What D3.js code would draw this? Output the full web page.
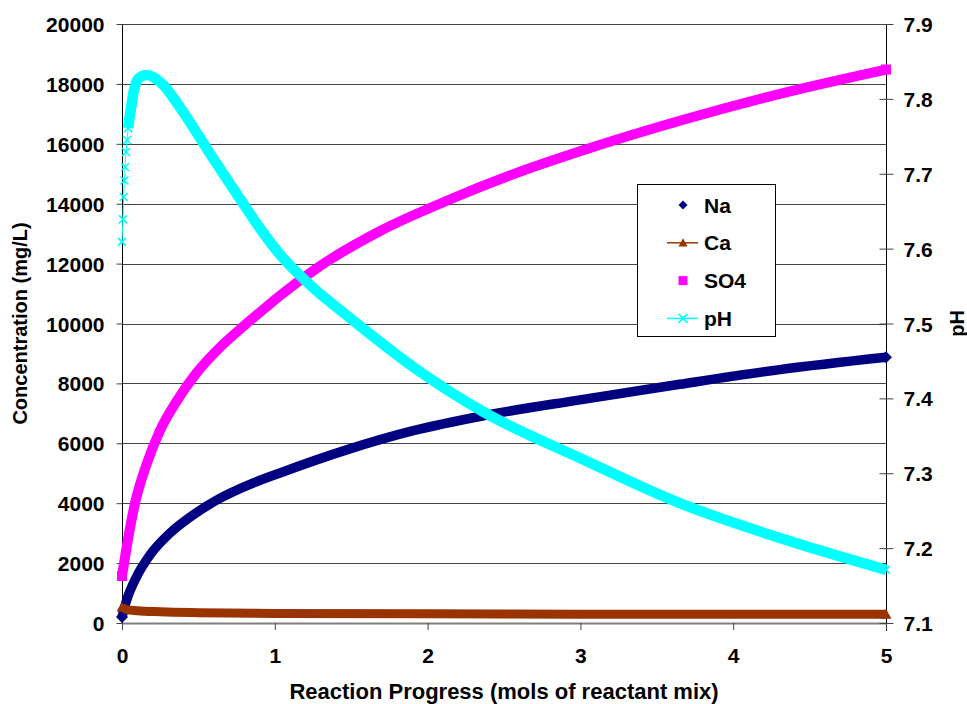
<!DOCTYPE html>
<html>
<head>
<meta charset="utf-8">
<script src="https://cdn.jsdelivr.net/npm/d3@7"></script>
<style>
	body { margin: 0; background: #fff; }
	text { font-family: "Liberation Sans", Arial, sans-serif; font-weight: bold; fill: #000; }
</style>
</head>
<body>
<script>
		// values
		var progress = [0, 1, 2, 3, 4, 5];
		var concTicks = [0, 2000, 4000, 6000, 8000, 10000, 12000, 14000, 16000, 18000, 20000];
		var phTicks = [7.1, 7.2, 7.3, 7.4, 7.5, 7.6, 7.7, 7.8, 7.9];

		var naData = [[0, 200], [0.031, 770], [0.096, 1550], [0.183, 2270], [0.314, 3000], [0.466, 3610],
			[0.64, 4160], [0.837, 4630], [1.034, 5010], [1.47, 5780], [1.906, 6420], [2.365, 6920],
			[2.997, 7450], [3.65, 7970], [4.306, 8460], [5, 8870]];
		var caData = [[0, 530], [0.03, 450], [0.1, 410], [0.25, 375], [0.5, 345], [1, 320],
			[2, 305], [3, 295], [4, 290], [5, 288]];
		var so4Data = [[0, 1570], [0.031, 2550], [0.085, 4000], [0.161, 5300], [0.248, 6420], [0.357, 7400],
			[0.488, 8350], [0.64, 9200], [0.793, 9900], [0.946, 10560], [1.034, 10930], [1.25, 11760],
			[1.686, 13080], [2.122, 14090], [2.558, 14980], [2.997, 15750], [3.65, 16770], [4.306, 17670], [5, 18480]];
		var phData = [[0, 7.609], [0.006, 7.639], [0.011, 7.669], [0.016, 7.691], [0.02, 7.709], [0.027, 7.729],
			[0.033, 7.745], [0.041, 7.761], [0.048, 7.774], [0.057, 7.785], [0.065, 7.796], [0.074, 7.8075],
			[0.087, 7.8185], [0.107, 7.827], [0.161, 7.832], [0.27, 7.8185], [0.358, 7.795], [0.466, 7.762],
			[0.576, 7.727], [0.685, 7.693], [0.794, 7.66], [0.903, 7.627], [1.034, 7.592], [1.25, 7.548],
			[1.47, 7.511], [1.906, 7.442], [2.365, 7.382], [3.0, 7.32], [3.65, 7.26], [4.306, 7.2135], [5, 7.171]];
		var seriesNames = ["Na", "Ca", "SO4", "pH"];

		var width = 967,
			height = 704,
			plotLeft = 122,
			plotRight = 886,
			plotTop = 24,
			plotBottom = 623;

		var x = d3.scaleLinear().domain([0, 5]).range([plotLeft, plotRight]);
		var yC = d3.scaleLinear().domain([0, 20000]).range([plotBottom, plotTop]);
		var yP = d3.scaleLinear().domain([7.1, 7.9]).range([plotBottom, plotTop]);

		var svg = d3.select("body").append("svg")
			.attr("width", width)
			.attr("height", height);

		// gridlines
		svg.append("g")
			.selectAll("line")
			.data(concTicks)
			.enter()
			.append("line")
			.attr("x1", plotLeft)
			.attr("x2", plotRight)
			.attr("y1", function (d) { return Math.round(yC(d)) + 0.5; })
			.attr("y2", function (d) { return Math.round(yC(d)) + 0.5; })
			.style("stroke", function (d) { return d === 0 ? "#808080" : "#444"; })
			.style("stroke-width", function (d) { return d === 0 ? 2 : 1; });

		// left axis
		var axisL = svg.append("g")
			.attr("transform", "translate(" + (plotLeft + 0.5) + ",0)")
			.call(d3.axisLeft(yC).tickValues(concTicks).tickSize(6).tickFormat(d3.format("d")));
		axisL.select(".domain").attr("d", "M0," + (plotTop + 0.5) + "V" + plotBottom).style("stroke", "#000");
		axisL.selectAll(".tick line").style("stroke", "#444");
		axisL.selectAll("text").style("font-size", "21px").attr("dy", "0.36em").attr("x", -18);

		// right axis
		var axisR = svg.append("g")
			.attr("transform", "translate(" + (plotRight + 0.5) + ",0)")
			.call(d3.axisRight(yP).tickValues(phTicks).tickSize(7).tickFormat(d3.format(".1f")));
		axisR.select(".domain").attr("d", "M0," + plotTop + "V" + (plotBottom + 8)).style("stroke", "#000");
		axisR.selectAll(".tick line").attr("x1", -7).style("stroke", "#444");
		axisR.selectAll("text").style("font-size", "21px").attr("dy", "0.36em").attr("x", 17);

		// bottom axis
		var axisB = svg.append("g")
			.attr("transform", "translate(0," + plotBottom + ")")
			.call(d3.axisBottom(x).tickValues(progress).tickSize(7).tickPadding(18).tickFormat(d3.format("d")));
		axisB.select(".domain").remove();
		axisB.selectAll(".tick line").style("stroke", "#444");
		axisB.selectAll("text").style("font-size", "21px").attr("dy", "0.71em");

		// axis titles
		svg.append("text")
			.text("Reaction Progress (mols of reactant mix)")
			.attr("x", (plotLeft + plotRight) / 2)
			.attr("y", 699)
			.style("font-size", "22px")
			.style("text-anchor", "middle");
		svg.append("text")
			.text("Concentration (mg/L)")
			.attr("transform", "translate(27," + (plotTop + plotBottom) / 2 + ") rotate(-90)")
			.style("font-size", "20px")
			.style("text-anchor", "middle");
		svg.append("text")
			.text("pH")
			.attr("transform", "translate(964," + (plotTop + plotBottom) / 2 + ") rotate(-90)")
			.style("font-size", "20px")
			.style("text-anchor", "middle");

		var colors = { "Na": "#000080", "Ca": "#993300", "SO4": "#ff00ff", "pH": "#00ffff" };

		function marker(g, name, size) {
			var s = size / 2;
			if (name === "Na") {
				g.append("path").attr("d", "M0," + (-s) + "L" + s + ",0L0," + s + "L" + (-s) + ",0Z").style("fill", colors[name]);
			} else if (name === "Ca") {
				g.append("path").attr("d", "M0," + (-s) + "L" + s + "," + (s * 0.8) + "L" + (-s) + "," + (s * 0.8) + "Z").style("fill", colors[name]);
			} else if (name === "SO4") {
				g.append("rect").attr("x", -s).attr("y", -s).attr("width", size).attr("height", size).style("fill", colors[name]);
			} else {
				g.append("path").attr("d", "M" + (-s) + "," + (-s) + "L" + s + "," + s + "M" + s + "," + (-s) + "L" + (-s) + "," + s)
					.style("stroke", colors[name]).style("stroke-width", 1.6).style("fill", "none");
			}
		}

		function band(data, yScale, name, w) {
			var line = d3.line()
				.x(function (d) { return x(d[0]); })
				.y(function (d) { return yScale(d[1]); })
				.curve(d3.curveMonotoneX);
			svg.append("path")
				.datum(data)
				.attr("d", line)
				.style("fill", "none")
				.style("stroke", colors[name])
				.style("stroke-width", w)
				.style("stroke-linejoin", "round");
		}

		function endMarkers(data, yScale, name, size) {
			svg.selectAll(null)
				.data([data[0], data[data.length - 1]])
				.enter()
				.append("g")
				.attr("transform", function (d) { return "translate(" + x(d[0]) + "," + yScale(d[1]) + ")"; })
				.each(function () { marker(d3.select(this), name, size); });
		}

		band(so4Data, yC, "SO4", 10);
		endMarkers(so4Data, yC, "SO4", 10);
		band(naData, yC, "Na", 9.5);
		endMarkers(naData, yC, "Na", 12);

		// pH: thin connecting line, single markers where they separate, dense band afterwards
		band(phData, yP, "pH", 1);
		band(phData.filter(function (d) { return d[0] >= 0.04; }), yP, "pH", 10.5);
		svg.selectAll("g.phm")
			.data(phData.filter(function (d) { return d[0] < 0.09; }).concat([phData[phData.length - 1]]))
			.enter()
			.append("g")
			.attr("class", "phm")
			.attr("transform", function (d) { return "translate(" + x(d[0]) + "," + yP(d[1]) + ")"; })
			.each(function () { marker(d3.select(this), "pH", 8); });

		band(caData, yC, "Ca", 9);
		endMarkers(caData, yC, "Ca", 11);

		// legend
		var legend = svg.append("g").attr("transform", "translate(637,184)");
		legend.append("rect")
			.attr("x", 0.5)
			.attr("y", 0.5)
			.attr("width", 138)
			.attr("height", 152)
			.style("fill", "#fff")
			.style("stroke", "#000");
		var items = legend.selectAll("g.item")
			.data(seriesNames)
			.enter()
			.append("g")
			.attr("class", "item")
			.attr("transform", function (d, i) { return "translate(0," + (21 + i * 37.8) + ")"; });
		items.filter(function (d) { return d === "Ca" || d === "pH"; })
			.append("line")
			.attr("x1", 30)
			.attr("x2", 61)
			.style("stroke", function (d) { return colors[d]; })
			.style("stroke-width", 1.5);
		items.append("g")
			.attr("transform", "translate(46,0)")
			.each(function (d) { marker(d3.select(this), d, 9); });
		items.append("text")
			.text(function (d) { return d; })
			.attr("x", 67)
			.attr("dy", "0.36em")
			.style("font-size", "21px");
</script>
</body>
</html>
